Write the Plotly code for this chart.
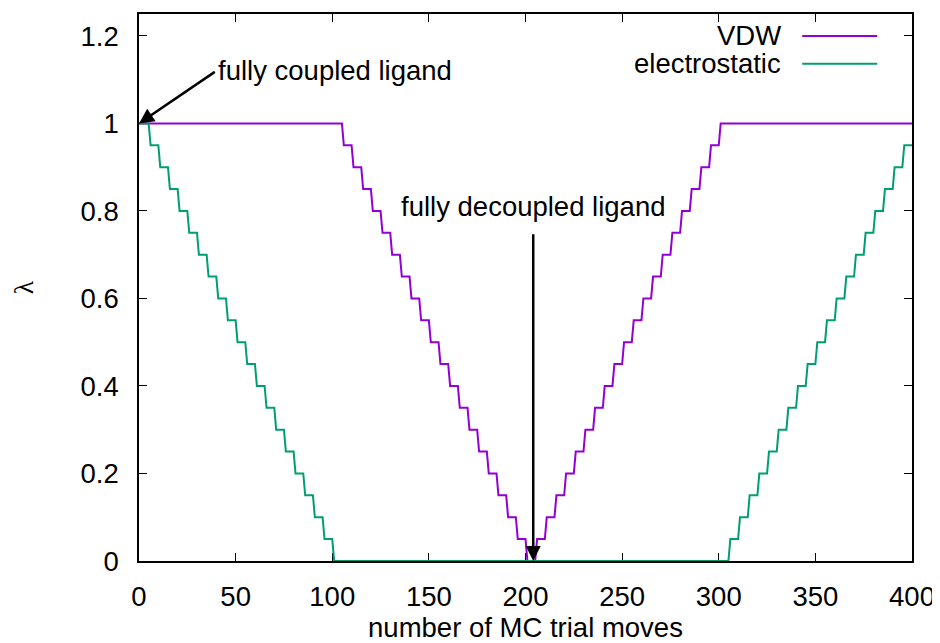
import plotly.graph_objects as go

# Staircase corner points (x = MC trial move, y = lambda)
VDW_X = [0, 105, 106, 110, 111, 115, 116, 120, 121, 125, 126, 130, 131, 135, 136,
         140, 141, 145, 146, 150, 151, 155, 156, 160, 161, 165, 166, 170, 171, 175, 176,
         180, 181, 185, 186, 190, 191, 195, 196, 200, 201,
         205, 206, 210, 211, 215, 216, 220, 221, 225, 226, 230, 231, 235, 236,
         240, 241, 245, 246, 250, 251, 255, 256, 260, 261, 265, 266, 270, 271, 275, 276,
         280, 281, 285, 286, 290, 291, 295, 296, 300, 301, 400]
VDW_Y = [1.00, 1.00, 0.95, 0.95, 0.90, 0.90, 0.85, 0.85, 0.80, 0.80, 0.75, 0.75, 0.70, 0.70, 0.65,
         0.65, 0.60, 0.60, 0.55, 0.55, 0.50, 0.50, 0.45, 0.45, 0.40, 0.40, 0.35, 0.35, 0.30, 0.30, 0.25,
         0.25, 0.20, 0.20, 0.15, 0.15, 0.10, 0.10, 0.05, 0.05, 0.00,
         0.00, 0.05, 0.05, 0.10, 0.10, 0.15, 0.15, 0.20, 0.20, 0.25, 0.25, 0.30, 0.30, 0.35,
         0.35, 0.40, 0.40, 0.45, 0.45, 0.50, 0.50, 0.55, 0.55, 0.60, 0.60, 0.65, 0.65, 0.70, 0.70, 0.75,
         0.75, 0.80, 0.80, 0.85, 0.85, 0.90, 0.90, 0.95, 0.95, 1.00, 1.00]

ELEC_X = [0, 5, 6, 10, 11, 15, 16, 20, 21, 25, 26, 30, 31, 35, 36,
          40, 41, 45, 46, 50, 51, 55, 56, 60, 61, 65, 66, 70, 71, 75, 76,
          80, 81, 85, 86, 90, 91, 95, 96, 100, 101,
          305, 306, 310, 311, 315, 316, 320, 321, 325, 326, 330, 331, 335, 336,
          340, 341, 345, 346, 350, 351, 355, 356, 360, 361, 365, 366, 370, 371, 375, 376,
          380, 381, 385, 386, 390, 391, 395, 396, 400]
ELEC_Y = [1.00, 1.00, 0.95, 0.95, 0.90, 0.90, 0.85, 0.85, 0.80, 0.80, 0.75, 0.75, 0.70, 0.70, 0.65,
          0.65, 0.60, 0.60, 0.55, 0.55, 0.50, 0.50, 0.45, 0.45, 0.40, 0.40, 0.35, 0.35, 0.30, 0.30, 0.25,
          0.25, 0.20, 0.20, 0.15, 0.15, 0.10, 0.10, 0.05, 0.05, 0.00,
          0.00, 0.05, 0.05, 0.10, 0.10, 0.15, 0.15, 0.20, 0.20, 0.25, 0.25, 0.30, 0.30, 0.35,
          0.35, 0.40, 0.40, 0.45, 0.45, 0.50, 0.50, 0.55, 0.55, 0.60, 0.60, 0.65, 0.65, 0.70, 0.70, 0.75,
          0.75, 0.80, 0.80, 0.85, 0.85, 0.90, 0.90, 0.95, 0.95]

SERIES_NAMES = ["VDW", "electrostatic"]
SERIES_COLORS = ["#9400D3", "#009E73"]

X_TICKS = [0, 50, 100, 150, 200, 250, 300, 350, 400]
Y_TICKS = [0, 0.2, 0.4, 0.6, 0.8, 1.0, 1.2]
Y_TICK_TEXT = ["0", "0.2", "0.4", "0.6", "0.8", "1", "1.2"]

COUPLED_LABEL = "fully coupled ligand"
COUPLED_TAIL = (40, 1.12)
COUPLED_HEAD = (0, 1.0)
DECOUPLED_LABEL = "fully decoupled ligand"
DECOUPLED_TAIL = (204, 0.75)
DECOUPLED_HEAD = (204, 0.0)
DECOUPLED_LABEL_Y = 0.81

FONT = "Liberation Sans, Arial, sans-serif"
FS = 27.5

fig = go.Figure()
fig.add_trace(go.Scatter(x=VDW_X, y=VDW_Y, mode="lines", name=SERIES_NAMES[0],
                         line=dict(color=SERIES_COLORS[0], width=2), showlegend=False))
fig.add_trace(go.Scatter(x=ELEC_X, y=ELEC_Y, mode="lines", name=SERIES_NAMES[1],
                         line=dict(color=SERIES_COLORS[1], width=2), showlegend=False))

# gnuplot-style legend: right-aligned text with line sample to its right
legend_y = [0.960, 0.909]
for name, color, ly in zip(SERIES_NAMES, SERIES_COLORS, legend_y):
    fig.add_annotation(x=0.833, y=ly, xref="paper", yref="paper", text=name,
                       showarrow=False, xanchor="right", yanchor="middle",
                       font=dict(family=FONT, size=FS, color="black"))
    fig.add_shape(type="line", xref="paper", yref="paper", x0=0.858, x1=0.955,
                  y0=ly, y1=ly, line=dict(color=color, width=2))

# Arrows
fig.add_annotation(x=COUPLED_HEAD[0], y=COUPLED_HEAD[1], ax=COUPLED_TAIL[0], ay=COUPLED_TAIL[1],
                   xref="x", yref="y", axref="x", ayref="y", text="", showarrow=True,
                   arrowhead=2, arrowsize=1.2, arrowwidth=2.5, arrowcolor="black")
fig.add_annotation(x=COUPLED_TAIL[0], y=COUPLED_TAIL[1], xref="x", yref="y", text=COUPLED_LABEL,
                   showarrow=False, xanchor="left", yanchor="middle",
                   font=dict(family=FONT, size=FS, color="black"))
fig.add_annotation(x=DECOUPLED_HEAD[0], y=DECOUPLED_HEAD[1], ax=DECOUPLED_TAIL[0], ay=DECOUPLED_TAIL[1],
                   xref="x", yref="y", axref="x", ayref="y", text="", showarrow=True,
                   arrowhead=2, arrowsize=1.2, arrowwidth=2.5, arrowcolor="black")
fig.add_annotation(x=DECOUPLED_TAIL[0], y=DECOUPLED_LABEL_Y, xref="x", yref="y", text=DECOUPLED_LABEL,
                   showarrow=False, xanchor="center", yanchor="middle",
                   font=dict(family=FONT, size=FS, color="black"))

axis_common = dict(showline=True, linecolor="black", linewidth=1.5, mirror="ticks",
                   ticks="inside", ticklen=8, tickwidth=1, tickcolor="black",
                   showgrid=False, zeroline=False, layer="below traces",
                   tickfont=dict(family=FONT, size=FS, color="black"))

fig.update_xaxes(range=[0, 400], tickvals=X_TICKS, ticklabelstandoff=10,
                 title=dict(text="number of MC trial moves", standoff=8,
                            font=dict(family=FONT, size=FS, color="black")),
                 **axis_common)
fig.update_yaxes(range=[0, 1.25], tickvals=Y_TICKS, ticktext=Y_TICK_TEXT, ticklabelstandoff=13,
                 title=dict(text="λ", standoff=40,
                            font=dict(family="Liberation Serif, DejaVu Serif, serif", size=FS, color="black")),
                 **axis_common)

# the page adds an 8px body margin, so the figure is sized/margined to compensate
fig.update_layout(width=932, height=635, plot_bgcolor="white", paper_bgcolor="white",
                  margin=dict(l=131, r=28, t=4, b=75), showlegend=False)

fig.write_html("out.html")
